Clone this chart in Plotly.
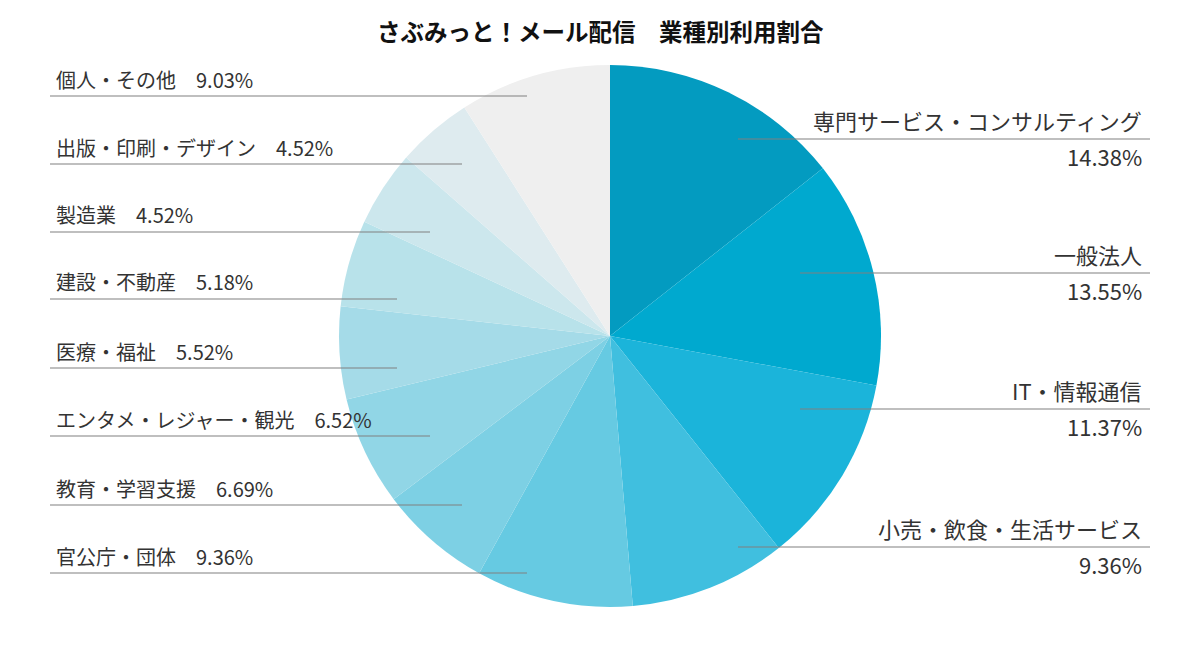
import plotly.graph_objects as go

W, H = 1200, 650

# data
industries = [
    "専門サービス・コンサルティング",
    "一般法人",
    "IT・情報通信",
    "小売・飲食・生活サービス",
    "官公庁・団体",
    "教育・学習支援",
    "エンタメ・レジャー・観光",
    "医療・福祉",
    "建設・不動産",
    "製造業",
    "出版・印刷・デザイン",
    "個人・その他",
]
shares = [14.38, 13.55, 11.37, 9.36, 9.36, 6.69, 6.52, 5.52, 5.18, 4.52, 4.52, 9.03]
colors = [
    "#039bc0", "#00a9cf", "#1bb4da", "#40bfdf", "#66cae2", "#7dd0e4",
    "#91d6e6", "#a5dbe8", "#b8e2ea", "#cce7ed", "#deebef", "#efefef",
]

FONT = "Noto Sans CJK JP"
TXT = "#333333"
LINE = "#808080"


def px(x):
    return x / W


def py(y):
    return 1 - y / H


fig = go.Figure(
    go.Pie(
        labels=industries,
        values=shares,
        sort=False,
        direction="clockwise",
        rotation=0,
        marker=dict(colors=colors, line=dict(width=0)),
        textinfo="none",
        hoverinfo="label+percent",
        domain=dict(x=[px(339), px(881)], y=[py(607), py(65)]),
    )
)

shapes = []
annotations = []

# right side labels: name above line, percent below
right_items = [0, 1, 2, 3]
right_lines = [(738, 139), (800, 273), (800, 409), (738, 547)]
for i, (x0, y) in zip(right_items, right_lines):
    shapes.append(dict(type="line", xref="paper", yref="paper",
                       x0=px(x0), x1=px(1150), y0=py(y), y1=py(y),
                       line=dict(color=LINE, width=1.2), layer="above"))
    annotations.append(dict(text=industries[i], x=px(1144), y=py(y - 19),
                            xref="paper", yref="paper", xanchor="right", yanchor="middle",
                            showarrow=False, font=dict(family=FONT, size=22, color=TXT)))
    annotations.append(dict(text=f"{shares[i]:.2f}%", x=px(1144), y=py(y + 17),
                            xref="paper", yref="paper", xanchor="right", yanchor="middle",
                            showarrow=False, font=dict(family=FONT, size=22, color=TXT)))

# left side labels: "name　pct" above line
left_items = [11, 10, 9, 8, 7, 6, 5, 4]
left_lines = [(527, 96), (462, 164), (430, 232), (397, 299),
              (397, 368), (430, 436), (462, 505), (527, 573)]
for i, (x1, y) in zip(left_items, left_lines):
    shapes.append(dict(type="line", xref="paper", yref="paper",
                       x0=px(50), x1=px(x1), y0=py(y), y1=py(y),
                       line=dict(color=LINE, width=1.2), layer="above"))
    annotations.append(dict(text=f"{industries[i]}　{shares[i]:.2f}%", x=px(54), y=py(y - 17),
                            xref="paper", yref="paper", xanchor="left", yanchor="middle",
                            showarrow=False, font=dict(family=FONT, size=20, color=TXT)))

annotations.append(dict(text="<b>さぶみっと！メール配信　業種別利用割合</b>", x=0.5, y=py(31),
                        xref="paper", yref="paper", xanchor="center", yanchor="middle",
                        showarrow=False, font=dict(family=FONT, size=23.5, color="#111111")))

fig.update_layout(
    width=W,
    height=H,
    margin=dict(l=0, r=0, t=0, b=0),
    paper_bgcolor="white",
    plot_bgcolor="white",
    showlegend=False,
    shapes=shapes,
    annotations=annotations,
    font=dict(family=FONT),
)

fig.write_html("out.html", config={"displayModeBar": False},
               post_script="document.body.style.margin='0';")
